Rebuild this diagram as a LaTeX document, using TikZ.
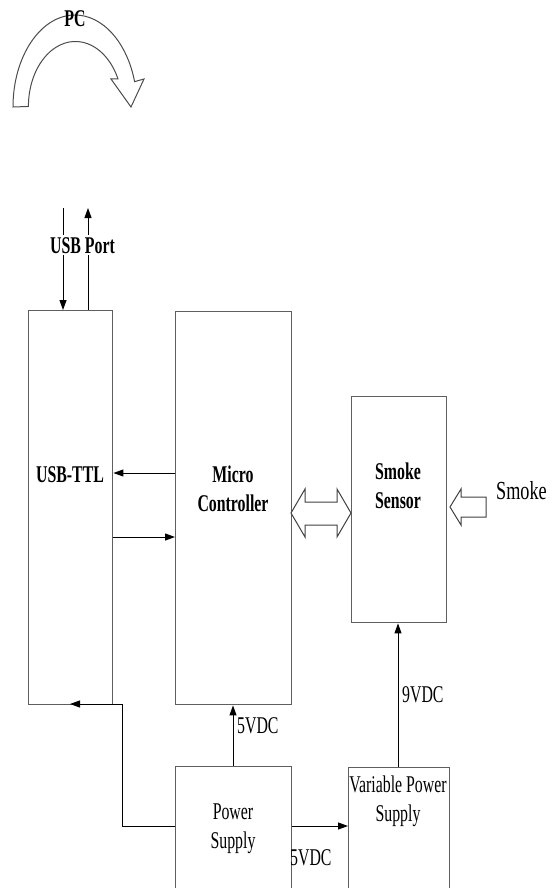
\documentclass[tikz,border=0pt]{standalone}
\usepackage{fontspec}
\setmainfont{Liberation Serif}
\usepackage{graphicx}
\usetikzlibrary{arrows.meta}
\definecolor{boxgray}{RGB}{95,95,95}
\newcommand\sq[1]{\scalebox{0.66}[1]{#1}}
\begin{document}
\begin{tikzpicture}[x=1pt,y=-1pt,
  box/.style={draw=boxgray, line width=1.4pt, rectangle, inner sep=0pt, anchor=north west},
  conn/.style={draw=black, line width=1pt},
  arr/.style={conn, -{Triangle[length=10pt,width=7pt]}},
  lbl/.style={inner sep=0pt, font=\fontsize{24}{29}\selectfont, align=center},
  blbl/.style={lbl, font=\fontsize{24}{29}\selectfont\bfseries},
  blockarrow/.style={draw=black!75, line width=1pt, fill=white, line join=miter}]
\useasboundingbox (0,0) rectangle (556,888);
\clip (0,0) rectangle (556,888);

% boxes
\node[box, minimum width=84pt, minimum height=394pt] (usb) at (28,310) {};
\node[box, minimum width=116pt, minimum height=393pt] (mc) at (175,311) {};
\node[box, minimum width=95pt, minimum height=226pt] (ss) at (351,396) {};
\node[box, minimum width=116pt, minimum height=140pt] (ps) at (175,766) {};
\node[box, minimum width=101pt, minimum height=140pt] (vps) at (348,767) {};

% texts
\node[blbl, anchor=base] (tusb) at (70,482) {\sq{USB-TTL}};
\node[blbl] (tmc) at (233,489) {\sq{Micro}\\\sq{Controller}};
\node[blbl] (tss) at (398,486) {\sq{Smoke}\\\sq{Sensor}};
\node[lbl] (tps) at (233,829) {\sq{Power}\\\sq{Supply}};
\node[lbl] (tvps) at (398,801) {\sq{Variable Power}\\\sq{Supply}};
\node[lbl, anchor=base west, font=\fontsize{26}{29}\selectfont] (tsmoke) at (496,499) {\scalebox{0.7}[1]{Smoke}};

% USB port arrows
\coordinate (u1) at (63,208);
\coordinate (u2) at (88,208);
\draw[arr] (u1) -- (usb.north -| u1);
\draw[arr] (usb.north -| u2) -- (u2);
\node[blbl, anchor=base, fill=white, inner xsep=1pt, inner ysep=2pt] (tport) at (82.5,253) {\sq{USB Port}};

% MC <-> USB-TTL
\coordinate (y1) at (0,473);
\coordinate (y2) at (0,537);
\draw[arr] (mc.west |- y1) -- (usb.east |- y1);
\draw[arr] (usb.east |- y2) -- (mc.west |- y2);

% power supply connections
\coordinate (x1) at (233,0);
\draw[arr] (ps.north -| x1) -- (mc.south -| x1);
\node[lbl, anchor=base west] (t5a) at (237,733) {\sq{5VDC}};

\coordinate (y3) at (0,826);
\coordinate (bend1) at (122,826);
\coordinate (bend2) at (122,704);
\coordinate (usbin) at (70,704);
\draw[arr] (ps.west |- y3) -- (bend1) -- (bend2) -- (usbin);

\draw[arr] (ps.east |- y3) -- (vps.west |- y3);
\node[lbl, anchor=base west] (t5b) at (290,865) {\sq{5VDC}};

\coordinate (x2) at (398,0);
\draw[arr] (vps.north -| x2) -- (ss.south -| x2);
\node[lbl, anchor=base west] (t9) at (402,702) {\sq{9VDC}};

% double block arrow between MC and sensor
\draw[blockarrow] (291,513) -- (305,489) -- (305,502) -- (337,502) -- (337,489) -- (351,513)
  -- (337,537) -- (337,525) -- (305,525) -- (305,537) -- cycle;

% smoke input block arrow
\draw[blockarrow] (450,507) -- (461,489) -- (461,497) -- (486,497) -- (486,517) -- (461,517) -- (461,525) -- cycle;

% PC curved arrow
\draw[blockarrow, draw=black!70] (13,107) arc[start angle=180, end angle=344, x radius=62, y radius=92]
  -- (144,79) -- (131,107) -- (111,79) -- (118,79)
  arc[start angle=335, end angle=180, x radius=47, y radius=65] -- cycle;
\node[blbl, anchor=base] (tpc) at (75,27) {\sq{PC}};
\end{tikzpicture}
\end{document}
